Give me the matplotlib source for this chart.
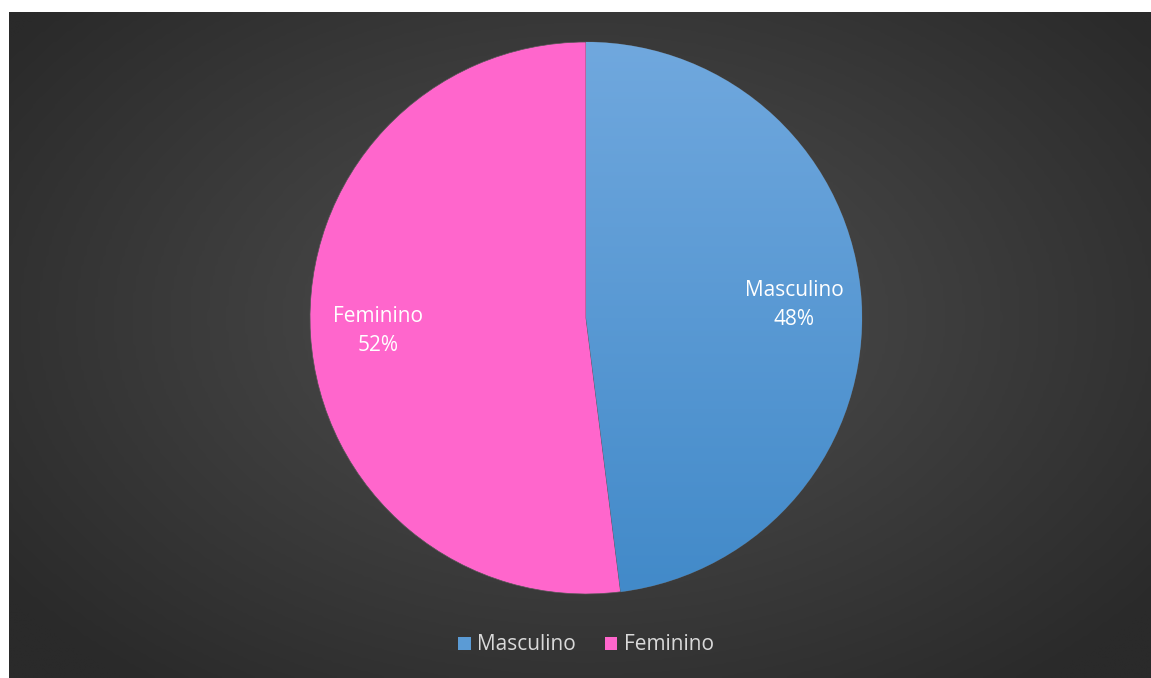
import matplotlib
matplotlib.use("Agg")
import matplotlib.pyplot as plt
import numpy as np
from matplotlib.colors import LinearSegmentedColormap

plt.rcParams["font.family"] = ["Open Sans", "DejaVu Sans"]

labels = ["Masculino", "Feminino"]
shares = [48, 52]
colors = ["#5b9bd5", "#ff66cc"]

W, H = 1151, 678
fig = plt.figure(figsize=(W / 100, H / 100), dpi=100)
fig.patch.set_facecolor("white")
ax = fig.add_axes([0, 0, 1, 1])
ax.axis("off")

cx, cy, rad = 586, 360, 276
wedges, texts = ax.pie(shares, colors=colors, startangle=90, counterclock=False,
                       center=(cx, cy), radius=rad,
                       wedgeprops=dict(linewidth=0.5, edgecolor="#555555"))
for w in wedges:
    w.set_zorder(2)

# dark panel with radial gradient
x0, x1, y0, y1 = 9, W, 0, H - 12
xx, yy = np.meshgrid(np.linspace(x0, x1, 400), np.linspace(y0, y1, 240))
r = np.hypot((xx - 586) / 720, (yy - 360) / 470)
bg = LinearSegmentedColormap.from_list("bg", ["#505050", "#2a2a2a"])
ax.imshow(np.clip(r, 0, 1), cmap=bg, vmin=0, vmax=1, extent=[x0, x1, y0, y1],
          origin="lower", interpolation="bilinear", zorder=0, aspect="auto")

# vertical gradient on the blue slice
gy = np.linspace(0, 1, 200).reshape(-1, 1)
blue = LinearSegmentedColormap.from_list("bl", ["#428ac9", "#70a8de"])
im = ax.imshow(gy, cmap=blue, extent=[cx - rad, cx + rad, cy - rad, cy + rad],
               origin="lower", aspect="auto", zorder=3, interpolation="bilinear")
im.set_clip_path(wedges[0])

# pie and imshow reset the limits, so put pixel coordinates back
ax.set_xlim(0, W)
ax.set_ylim(0, H)
ax.set_aspect("equal")

for w, lab, v in zip(wedges, labels, shares):
    ang = np.deg2rad((w.theta1 + w.theta2) / 2)
    tx = cx + rad * 0.755 * np.cos(ang)
    ty = cy + rad * 0.755 * np.sin(ang)
    ax.text(tx, ty, f"{lab}\n{v}%", ha="center", va="center", color="white",
            fontsize=15, linespacing=1.55, zorder=5)

leg = ax.legend(wedges, labels, loc="center", bbox_to_anchor=(586 / W, 33 / H),
                ncol=2, frameon=False, fontsize=15, handlelength=0.6,
                handleheight=0.6, handletextpad=0.3, columnspacing=1.4)
for t in leg.get_texts():
    t.set_color("#d9d9d9")
for h in leg.legend_handles:
    h.set_edgecolor("none")

fig.savefig("out.png", dpi=100)
